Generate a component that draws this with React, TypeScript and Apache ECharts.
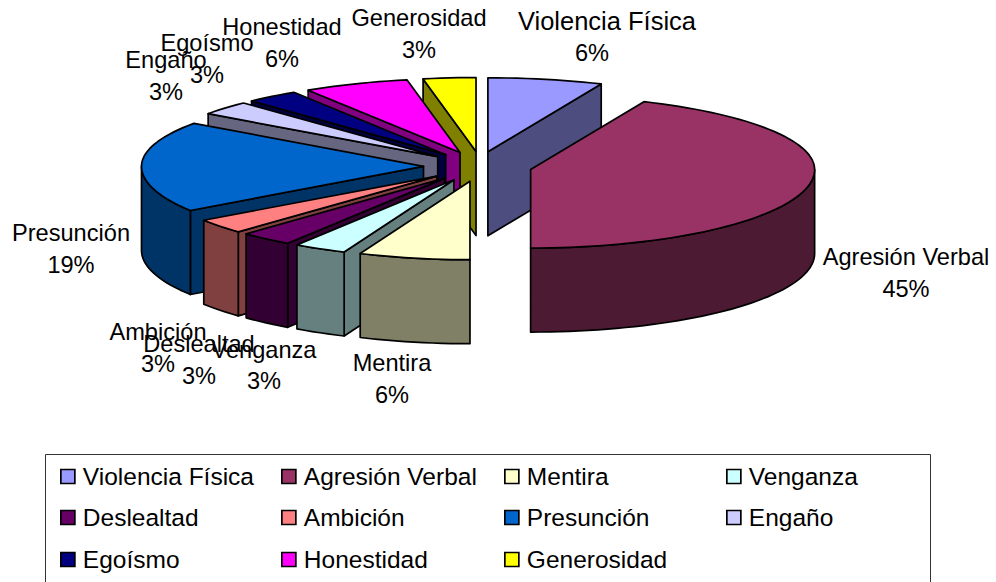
import React, { useEffect, useRef } from "react";
import * as echarts from "echarts";

const categories = ["Violencia Física", "Agresión Verbal", "Mentira", "Venganza", "Deslealtad", "Ambición", "Presunción", "Engaño", "Egoísmo", "Honestidad", "Generosidad"];
const percents = [6, 45, 6, 3, 3, 3, 19, 3, 3, 6, 3];
const topColors = ["#9999FF", "#993366", "#FFFFCC", "#CCFFFF", "#660066", "#FF8080", "#0066CC", "#CCCCFF", "#000080", "#FF00FF", "#FFFF00"];
const sideColors = ["#4D4D80", "#4D1A33", "#808066", "#668080", "#330033", "#804040", "#003366", "#666680", "#000040", "#800080", "#808000"];
const drawOrder = [10, 9, 8, 7, 6, 5, 4, 3, 0, 1, 2];
const nameCenters = [[607, 21], [906, 257], [392, 363], [264, 350], [199, 344], [158, 332], [71, 233], [166, 60], [207, 43], [282, 27], [419, 18]];
const percentCenters = [[592, 53], [906, 289], [392, 395], [264, 381], [199, 376], [158, 364], [71, 265], [166, 92], [207, 75], [282, 59], [419, 50]];
const nameSizes = [25.5, 23.6, 23.6, 23.6, 23.6, 23.6, 23.6, 23.6, 23.6, 23.6, 23.6];
const legendLefts = [60, 281, 504, 726];
const legendTops = [464, 505, 547];

const CX = 481.5, CY = 166.5, RX_RIGHT = 284, RX_LEFT = 282, RY_BACK = 74, RY_FRONT = 78.5, DEPTH = 84;
const EXPLODE_RIGHT = 50.5, EXPLODE_LEFT = 58, EXPLODE_Y = 15;
const rad = (d: number) => (d * Math.PI) / 180;
const warp = (d: number) =>
  d -
  1.2 * (1 - Math.cos(rad(d))) -
  1.2 * Math.max(0, 1 - Math.abs(d - 183.6) / 15) +
  2 * Math.max(0, 1 - Math.abs(d - 21.6) / 21.6);

function sliceChildren(i: number, value: number) {
  const before = percents.slice(0, i).reduce((s, v) => s + v, 0);
  const total = percents.reduce((s, v) => s + v, 0);
  const a0 = warp((before / total) * 360);
  const a1 = warp(((before + value) / total) * 360);
  const mid = rad((a0 + a1) / 2);
  const sm = Math.sin(mid);
  const ox = CX + (sm > 0 ? EXPLODE_RIGHT * Math.pow(sm, 1.3) : EXPLODE_LEFT * sm);
  const oy = CY - Math.cos(mid) * EXPLODE_Y;
  const rim = (d: number): [number, number] => {
    const c = Math.cos(rad(d));
    const sn = Math.sin(rad(d));
    return [ox + (sn > 0 ? RX_RIGHT : RX_LEFT) * sn, oy - (c > 0 ? RY_BACK : RY_FRONT) * c];
  };
  const arc = (s: number, e: number) => {
    const pts: [number, number][] = [];
    const n = Math.max(2, Math.ceil((e - s) / 2));
    for (let k = 0; k <= n; k++) pts.push(rim(s + ((e - s) * k) / n));
    return pts;
  };
  const down = (p: [number, number]): [number, number] => [p[0], p[1] + DEPTH];
  const apex: [number, number] = [ox, oy];
  const line = { stroke: "#000", lineWidth: 1.7, lineJoin: "round" };
  const poly = (points: [number, number][], fill: string) => ({
    type: "polygon",
    shape: { points },
    style: { fill, ...line },
  });
  const kids: any[] = [];
  const side = sideColors[i];
  const radial = (d: number) => {
    const p = rim(d);
    kids.push(poly([apex, p, down(p), down(apex)], side));
  };
  if (Math.sin(rad(a0)) < -0.001) radial(a0);
  if (Math.sin(rad(a1)) > 0.001) radial(a1);
  const s = Math.max(a0, 90), e = Math.min(a1, 270);
  if (e > s) {
    const top = arc(s, e);
    kids.push(poly([...top, ...top.map(down).reverse()], side));
  }
  kids.push(poly([apex, ...arc(a0, a1)], topColors[i]));
  return kids;
}

const labelText = (text: string, at: number[], fontSize: number) => ({
  type: "text",
  z: 100,
  silent: true,
  style: {
    x: at[0],
    y: at[1],
    text,
    align: "center",
    verticalAlign: "middle",
    fontFamily: "Liberation Sans",
    fontSize,
    fill: "#000",
  },
});

export default function App() {
  const ref = useRef<HTMLDivElement>(null);
  useEffect(() => {
    const chart = echarts.init(ref.current!, undefined, { renderer: "svg" });
    const legends = categories.map((name, i) => ({
      data: [name],
      left: legendLefts[i % 4],
      top: legendTops[Math.floor(i / 4)],
      padding: 0,
      itemWidth: 14,
      itemHeight: 14,
      icon: "rect",
      selectedMode: false,
      itemStyle: { borderColor: "#000", borderWidth: 1.7 },
      textStyle: { fontFamily: "Liberation Sans", fontSize: 24.5, color: "#000", padding: [0, 0, 0, 3] },
    }));
    chart.setOption({
      animation: false,
      backgroundColor: "#fff",
      legend: legends,
      graphic: [
        {
          type: "rect",
          z: -1,
          silent: true,
          shape: { x: 45.5, y: 454.5, width: 885, height: 140 },
          style: { fill: "none", stroke: "#333", lineWidth: 1 },
        },
        ...categories.flatMap((name, i) => [
          labelText(name, nameCenters[i], nameSizes[i]),
          labelText(`${percents[i]}%`, percentCenters[i], 23.6),
        ]),
      ],
      series: drawOrder.map((i) => ({
        type: "custom",
        name: categories[i],
        coordinateSystem: "none",
        silent: true,
        itemStyle: { color: topColors[i] },
        data: [[percents[i]]],
        renderItem: (_p: any, api: any) => ({ type: "group", children: sliceChildren(i, api.value(0)) }),
      })),
    });
    return () => chart.dispose();
  }, []);
  return <div ref={ref} style={{ position: "fixed", left: 0, top: 0, width: 996, height: 582 }} />;
}
